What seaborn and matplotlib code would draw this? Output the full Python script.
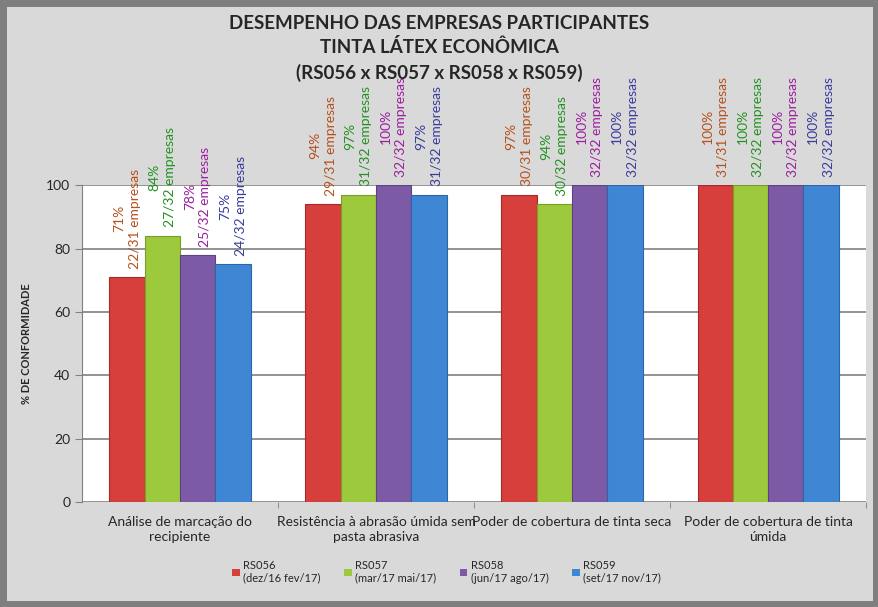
import matplotlib
matplotlib.use("Agg")
import matplotlib.pyplot as plt
import numpy as np
import pandas as pd
import seaborn as sns

# data
criterios = [
    "Análise de marcação do\nrecipiente",
    "Resistência à abrasão úmida sem\npasta abrasiva",
    "Poder de cobertura de tinta seca",
    "Poder de cobertura de tinta\númida",
]
rodadas = ["RS056", "RS057", "RS058", "RS059"]
periodos = ["(dez/16 fev/17)", "(mar/17 mai/17)", "(jun/17 ago/17)", "(set/17 nov/17)"]

pct_rs056 = [71, 94, 97, 100]
pct_rs057 = [84, 97, 94, 100]
pct_rs058 = [78, 100, 100, 100]
pct_rs059 = [75, 97, 100, 100]

emp_rs056 = ["22/31", "29/31", "30/31", "31/31"]
emp_rs057 = ["27/32", "31/32", "30/32", "32/32"]
emp_rs058 = ["25/32", "32/32", "32/32", "32/32"]
emp_rs059 = ["24/32", "31/32", "32/32", "32/32"]

bar_colors = ["#d63f3b", "#9dc93c", "#7d5aa6", "#3f86d4"]
edge_colors = ["#a52b28", "#7a9d2a", "#5e4280", "#2c66a6"]
label_colors = ["#b5501c", "#22921f", "#9a1e9e", "#3b3b9c"]

pcts = [pct_rs056, pct_rs057, pct_rs058, pct_rs059]
emps = [emp_rs056, emp_rs057, emp_rs058, emp_rs059]

rows = []
for r, p, e in zip(rodadas, pcts, emps):
    for c, v, n in zip(criterios, p, e):
        rows.append({"criterio": c, "rodada": r, "pct": v, "emp": n})
df = pd.DataFrame(rows)

sns.set_style("white")
plt.rcParams["font.family"] = ["Lato", "DejaVu Sans"]

fig = plt.figure(figsize=(8.79, 6.07), dpi=100)
fig.patch.set_facecolor("#d9d9d9")
fig.patch.set_edgecolor("#7f7f7f")
fig.patch.set_linewidth(9)

ax = fig.add_axes([0.0933, 0.173, 0.892, 0.522])
ax.set_facecolor("white")

sns.barplot(
    data=df, x="criterio", y="pct", hue="rodada",
    order=criterios, hue_order=rodadas,
    palette=bar_colors, width=0.72, saturation=1,
    edgecolor="none", ax=ax, legend=True,
)

# data labels above each bar, plus a darker rim like the bevelled Excel bars
for i, cont in enumerate(ax.containers):
    for j, bar in enumerate(cont):
        bar.set_edgecolor(edge_colors[i])
        bar.set_linewidth(0.8)
        txt = f"{pcts[i][j]}%\n{emps[i][j]} empresas"
        ax.annotate(
            txt,
            (bar.get_x() + bar.get_width() / 2, bar.get_height()),
            xytext=(0, 6), textcoords="offset points",
            rotation=90, ha="center", va="bottom", multialignment="center",
            fontsize=10, color=label_colors[i], annotation_clip=False,
            linespacing=1.35,
        )

ax.set_ylim(0, 100)
ax.set_xlim(-0.5, 3.5)
ax.set_yticks(np.arange(0, 101, 20))
ax.yaxis.grid(True, color="#808080", linewidth=1.2)
ax.set_axisbelow(True)
for s in ["top", "right", "bottom"]:
    ax.spines[s].set_visible(False)
ax.spines["left"].set_color("#808080")
ax.tick_params(axis="y", length=5, color="#808080", labelsize=10, left=True)
ax.tick_params(axis="x", length=0, labelsize=10, pad=10)
ax.set_xticks([0.5, 1.5, 2.5, 3.5], minor=True)
ax.tick_params(axis="x", which="minor", length=4, color="#808080", bottom=True)
for lab in ax.get_xticklabels():
    lab.set_multialignment("center")
    lab.set_linespacing(1.3)

ax.set_xlabel("")
ax.set_ylabel("% DE CONFORMIDADE", fontsize=8, fontweight="bold", labelpad=10)

fig.text(0.5, 0.962, "DESEMPENHO DAS EMPRESAS PARTICIPANTES", ha="center", va="center",
         fontsize=13.5, fontweight="bold")
fig.text(0.5, 0.922, "TINTA LÁTEX ECONÔMICA", ha="center", va="center",
         fontsize=13.5, fontweight="bold")
fig.text(0.5, 0.880, "(RS056 x RS057 x RS058 x RS059)", ha="center", va="center",
         fontsize=13.5, fontweight="bold")

handles, _ = ax.get_legend_handles_labels()
ax.legend_.remove()
leg_labels = [f"{r}\n{p}" for r, p in zip(rodadas, periodos)]
fig.legend(
    handles, leg_labels, loc="center", bbox_to_anchor=(0.508, 0.058), ncol=4,
    frameon=False, fontsize=8, handlelength=0.7, handleheight=0.7,
    handletextpad=0.3, columnspacing=2.1,
)

fig.savefig("out.png", dpi=100, facecolor=fig.get_facecolor(), edgecolor="#7f7f7f")
